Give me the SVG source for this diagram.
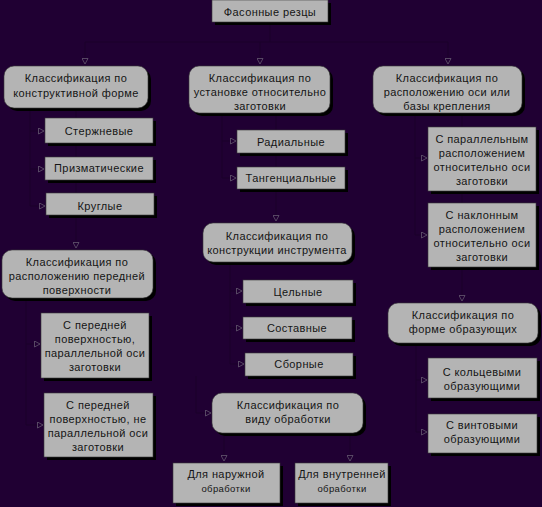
<svg xmlns="http://www.w3.org/2000/svg" width="542" height="507" viewBox="0 0 542 507">
<style>
.bg{fill:#200033}
.sh{fill:#000}
.box{fill:#b4b4b4;stroke:#3a3a3a;stroke-width:0.6}
.t{font-family:"Liberation Sans",Arial,sans-serif;font-size:11px;fill:#141414;text-anchor:middle;letter-spacing:0.4px}
.s{font-size:9.5px}
.conn{stroke:#1b002b;stroke-width:1;fill:none}
</style>
<defs>
<marker id="ah" markerWidth="7" markerHeight="7" refX="6" refY="3.5" orient="auto" markerUnits="userSpaceOnUse">
<path d="M0.5,0.5 L6,3.5 L0.5,6.5 Z" fill="#200033" stroke="#6e6478" stroke-width="0.7"/>
</marker>
</defs>
<rect class="bg" x="0" y="0" width="542" height="507"/>

<g id="connectors">
<path class="conn" d="M270,22 V42 M85,42 H448"/>
<path class="conn" marker-end="url(#ah)" d="M85,42 V64"/>
<path class="conn" marker-end="url(#ah)" d="M260,42 V64"/>
<path class="conn" marker-end="url(#ah)" d="M448,42 V64"/>
<path class="conn" d="M30,108 V206"/>
<path class="conn" marker-end="url(#ah)" d="M30,131 H44"/>
<path class="conn" marker-end="url(#ah)" d="M30,169 H44"/>
<path class="conn" marker-end="url(#ah)" d="M30,206 H45"/>
<path class="conn" marker-end="url(#ah)" d="M76,108 V248"/>
<path class="conn" d="M26,298 V425"/>
<path class="conn" marker-end="url(#ah)" d="M26,344 H40"/>
<path class="conn" marker-end="url(#ah)" d="M26,425 H43"/>
<path class="conn" d="M222,113 V178"/>
<path class="conn" marker-end="url(#ah)" d="M222,141 H236"/>
<path class="conn" marker-end="url(#ah)" d="M222,178 H236"/>
<path class="conn" marker-end="url(#ah)" d="M276,113 V221"/>
<path class="conn" d="M230,262 V364"/>
<path class="conn" marker-end="url(#ah)" d="M230,291 H242"/>
<path class="conn" marker-end="url(#ah)" d="M230,328 H242"/>
<path class="conn" marker-end="url(#ah)" d="M230,364 H244"/>
<path class="conn" marker-end="url(#ah)" d="M196,376 V413 H211"/>
<path class="conn" marker-end="url(#ah)" d="M224,433 V461"/>
<path class="conn" marker-end="url(#ah)" d="M350,433 V461"/>
<path class="conn" d="M415,113 V235"/>
<path class="conn" marker-end="url(#ah)" d="M415,158 H427"/>
<path class="conn" marker-end="url(#ah)" d="M415,235 H427"/>
<path class="conn" marker-end="url(#ah)" d="M462,113 V301"/>
<path class="conn" d="M416,343 V432"/>
<path class="conn" marker-end="url(#ah)" d="M416,380 H427"/>
<path class="conn" marker-end="url(#ah)" d="M416,432 H427"/>
</g>

<g id="n-root">
<rect class="sh" x="215" y="3" width="116" height="22"/>
<rect class="box" x="212" y="0" width="116" height="22"/>
<text class="t" x="270" y="16">Фасонные резцы</text>
</g>

<g id="n-form">
<rect class="sh" x="7" y="69" width="144" height="42" rx="10"/>
<rect class="box" x="4" y="66" width="144" height="42" rx="10"/>
<text class="t" x="76" y="82">Классификация по</text>
<text class="t" x="76" y="97">конструктивной форме</text>
</g>
<g id="n-install">
<rect class="sh" x="192" y="69" width="141" height="47" rx="10"/>
<rect class="box" x="189" y="66" width="141" height="47" rx="10"/>
<text class="t" x="260" y="82">Классификация по</text>
<text class="t" x="260" y="96">установке относительно</text>
<text class="t" x="260" y="110">заготовки</text>
</g>
<g id="n-axis">
<rect class="sh" x="376" y="69" width="149" height="47" rx="10"/>
<rect class="box" x="373" y="66" width="149" height="47" rx="10"/>
<text class="t" x="447" y="82">Классификация по</text>
<text class="t" x="447" y="96">расположению оси или</text>
<text class="t" x="447" y="110">базы крепления</text>
</g>

<g id="n-rod">
<rect class="sh" x="48" y="121" width="108" height="25"/>
<rect class="box" x="45" y="118" width="108" height="25"/>
<text class="t" x="99" y="135">Стержневые</text>
</g>
<g id="n-prism">
<rect class="sh" x="48" y="160" width="108" height="23"/>
<rect class="box" x="45" y="157" width="108" height="23"/>
<text class="t" x="99" y="172">Призматические</text>
</g>
<g id="n-round">
<rect class="sh" x="49" y="196" width="108" height="22"/>
<rect class="box" x="46" y="193" width="108" height="22"/>
<text class="t" x="100" y="210">Круглые</text>
</g>

<g id="n-front">
<rect class="sh" x="5" y="253" width="151" height="48" rx="10"/>
<rect class="box" x="2" y="250" width="151" height="48" rx="10"/>
<text class="t" x="77" y="266">Классификация по</text>
<text class="t" x="77" y="280">расположению передней</text>
<text class="t" x="77" y="294">поверхности</text>
</g>
<g id="n-front-par">
<rect class="sh" x="44" y="316" width="108" height="65"/>
<rect class="box" x="41" y="313" width="108" height="65"/>
<text class="t" x="95" y="329">С передней</text>
<text class="t" x="95" y="343">поверхностью,</text>
<text class="t" x="95" y="357">параллельной оси</text>
<text class="t" x="95" y="371">заготовки</text>
</g>
<g id="n-front-nonpar">
<rect class="sh" x="47" y="396" width="109" height="64"/>
<rect class="box" x="44" y="393" width="109" height="64"/>
<text class="t" x="98" y="409">С передней</text>
<text class="t" x="98" y="423">поверхностью, не</text>
<text class="t" x="98" y="437">параллельной оси</text>
<text class="t" x="98" y="451">заготовки</text>
</g>

<g id="n-radial">
<rect class="sh" x="240" y="133" width="108" height="23"/>
<rect class="box" x="237" y="130" width="108" height="23"/>
<text class="t" x="291" y="146">Радиальные</text>
</g>
<g id="n-tang">
<rect class="sh" x="240" y="170" width="108" height="22"/>
<rect class="box" x="237" y="167" width="108" height="22"/>
<text class="t" x="291" y="182">Тангенциальные</text>
</g>
<g id="n-constr">
<rect class="sh" x="206" y="226" width="149" height="39" rx="10"/>
<rect class="box" x="203" y="223" width="149" height="39" rx="10"/>
<text class="t" x="277" y="240">Классификация по</text>
<text class="t" x="277" y="254">конструкции инструмента</text>
</g>
<g id="n-solid">
<rect class="sh" x="246" y="283" width="110" height="23"/>
<rect class="box" x="243" y="280" width="110" height="23"/>
<text class="t" x="298" y="296">Цельные</text>
</g>
<g id="n-compound">
<rect class="sh" x="246" y="320" width="109" height="22"/>
<rect class="box" x="243" y="317" width="109" height="22"/>
<text class="t" x="297" y="332">Составные</text>
</g>
<g id="n-assembled">
<rect class="sh" x="248" y="356" width="108" height="23"/>
<rect class="box" x="245" y="353" width="108" height="23"/>
<text class="t" x="299" y="368">Сборные</text>
</g>
<g id="n-proc">
<rect class="sh" x="215" y="396" width="151" height="40" rx="10"/>
<rect class="box" x="212" y="393" width="151" height="40" rx="10"/>
<text class="t" x="288" y="409">Классификация по</text>
<text class="t" x="288" y="423">виду обработки</text>
</g>
<g id="n-outer">
<rect class="sh" x="176" y="466" width="107" height="40"/>
<rect class="box" x="173" y="463" width="107" height="40"/>
<text class="t" x="226" y="478">Для наружной</text>
<text class="t s" x="226" y="492">обработки</text>
</g>
<g id="n-inner">
<rect class="sh" x="298" y="466" width="93" height="40"/>
<rect class="box" x="295" y="463" width="93" height="40"/>
<text class="t" x="342" y="478">Для внутренней</text>
<text class="t s" x="342" y="492">обработки</text>
</g>

<g id="n-parallel">
<rect class="sh" x="431" y="130" width="108" height="64"/>
<rect class="box" x="428" y="127" width="108" height="64"/>
<text class="t" x="482" y="143">С параллельным</text>
<text class="t" x="482" y="157">расположением</text>
<text class="t" x="482" y="171">относительно оси</text>
<text class="t" x="482" y="185">заготовки</text>
</g>
<g id="n-inclined">
<rect class="sh" x="431" y="206" width="108" height="64"/>
<rect class="box" x="428" y="203" width="108" height="64"/>
<text class="t" x="482" y="219">С наклонным</text>
<text class="t" x="482" y="233">расположением</text>
<text class="t" x="482" y="247">относительно оси</text>
<text class="t" x="482" y="261">заготовки</text>
</g>
<g id="n-shape">
<rect class="sh" x="391" y="306" width="150" height="40" rx="10"/>
<rect class="box" x="388" y="303" width="150" height="40" rx="10"/>
<text class="t" x="463" y="319">Классификация по</text>
<text class="t" x="463" y="333">форме образующих</text>
</g>
<g id="n-ring">
<rect class="sh" x="431" y="361" width="109" height="40"/>
<rect class="box" x="428" y="358" width="109" height="40"/>
<text class="t" x="482" y="376">С кольцевыми</text>
<text class="t" x="482" y="390">образующими</text>
</g>
<g id="n-screw">
<rect class="sh" x="431" y="417" width="109" height="39"/>
<rect class="box" x="428" y="414" width="109" height="39"/>
<text class="t" x="482" y="429">С винтовыми</text>
<text class="t" x="482" y="443">образующими</text>
</g>
</svg>
